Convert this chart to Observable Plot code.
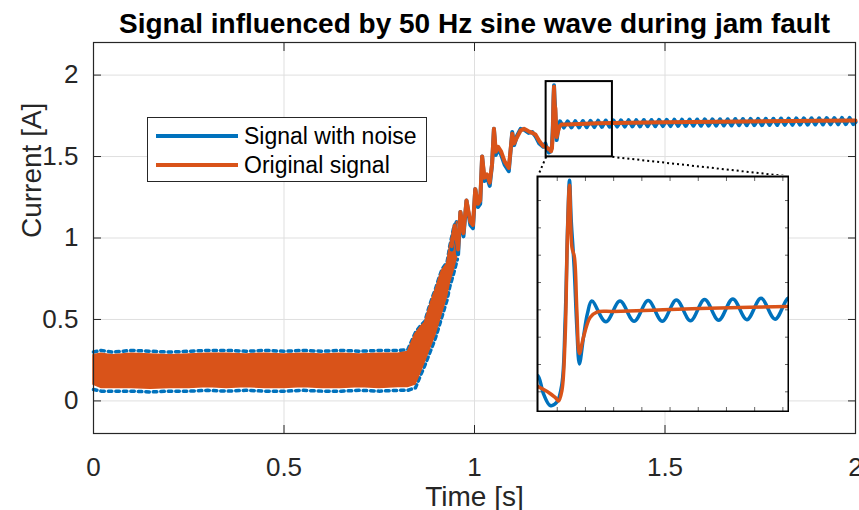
<!DOCTYPE html>
<html><head><meta charset="utf-8">
<script src="https://cdn.jsdelivr.net/npm/d3@7"></script>
<script src="https://cdn.jsdelivr.net/npm/@observablehq/plot@0.6"></script>
<style>
body{margin:0;background:#fff;}
#wrap{position:relative;width:859px;height:510px;overflow:hidden;font-family:"Liberation Sans",Arial,Helvetica,sans-serif;}
#wrap svg{display:block;}
#inset{position:absolute;}
#legend{position:absolute;left:147px;top:117px;width:280px;height:65px;border:1px solid #262626;background:#fff;box-sizing:border-box;}
.lrow{position:absolute;left:0;height:28px;width:100%;}
.lline{position:absolute;left:8px;width:82px;height:3.5px;top:12px;}
.ltext{position:absolute;left:96px;top:0;font-size:23px;line-height:28px;color:#000;white-space:nowrap;}
</style></head>
<body><div id="wrap"></div>
<script>
// ---------- data ----------
const titleText = "Signal influenced by 50 Hz sine wave during jam fault";
const xLabel = "Time [s]";
const yLabel = "Current [A]";
const seriesNames = ["Signal with noise", "Original signal"];
const xTicks = [0, 0.5, 1, 1.5, 2];
const yTicks = [0, 0.5, 1, 1.5, 2];
const insetXTicks = [1.2, 1.22, 1.24, 1.26, 1.28, 1.3, 1.32, 1.34, 1.36];
const insetYTicks = [1.55, 1.6, 1.65, 1.7, 1.75, 1.8, 1.85, 1.9];

// dense ripple band (original signal envelope) and noisy-signal envelope
const bandT  = [0, 0.02, 0.05, 0.1, 0.15, 0.2, 0.25, 0.3, 0.35, 0.4, 0.45, 0.5, 0.55, 0.6, 0.65, 0.7, 0.75, 0.8, 0.825, 0.845, 0.858, 0.870, 0.880, 0.890, 0.898, 0.906, 0.915, 0.928, 0.935, 0.945, 0.955];
const bandLo = [0.10, 0.08, 0.08, 0.08, 0.075, 0.08, 0.08, 0.085, 0.08, 0.085, 0.08, 0.08, 0.085, 0.08, 0.08, 0.085, 0.08, 0.085, 0.085, 0.10, 0.17, 0.24, 0.30, 0.36, 0.41, 0.47, 0.54, 0.64, 0.72, 0.80, 0.89];
const bandHi = [0.28, 0.29, 0.28, 0.29, 0.285, 0.28, 0.285, 0.29, 0.29, 0.285, 0.29, 0.285, 0.29, 0.285, 0.29, 0.285, 0.29, 0.29, 0.30, 0.41, 0.45, 0.48, 0.56, 0.63, 0.68, 0.74, 0.80, 0.84, 0.94, 1.05, 1.10];
const noisyHi = [0.30, 0.31, 0.30, 0.31, 0.305, 0.30, 0.305, 0.31, 0.31, 0.305, 0.31, 0.305, 0.31, 0.305, 0.31, 0.305, 0.31, 0.31, 0.315, 0.42, 0.46, 0.49, 0.57, 0.64, 0.69, 0.75, 0.81, 0.85, 0.95, 1.06, 1.11];
const noisyLo = [0.07, 0.06, 0.06, 0.06, 0.055, 0.06, 0.06, 0.065, 0.06, 0.065, 0.06, 0.06, 0.065, 0.06, 0.06, 0.065, 0.06, 0.065, 0.065, 0.08, 0.155, 0.22, 0.28, 0.34, 0.39, 0.45, 0.52, 0.62, 0.70, 0.78, 0.87];

// original signal after the ripple band
const origT = [0.940, 0.948, 0.957, 0.963, 0.971, 0.979, 0.989, 0.996, 1.002, 1.009, 1.015, 1.020, 1.026, 1.033, 1.040, 1.046, 1.051, 1.056, 1.062, 1.070, 1.079, 1.090, 1.099, 1.104, 1.112, 1.121, 1.130, 1.142, 1.152, 1.160, 1.170, 1.180,
  1.186, 1.1985, 1.2009, 1.2033, 1.2056, 1.2072, 1.2087, 1.2104, 1.2122, 1.2139, 1.2157, 1.2186, 1.2233, 1.2281, 1.2398, 1.275, 1.3225, 1.3626, 1.5, 1.7, 1.9, 2.0];
const origV = [0.95, 1.075, 0.93, 1.16, 1.03, 1.23, 1.10, 1.08, 1.30, 1.21, 1.23, 1.50, 1.37, 1.39, 1.34, 1.45, 1.67, 1.53, 1.56, 1.53, 1.47, 1.43, 1.64, 1.58, 1.62, 1.66, 1.67, 1.655, 1.645, 1.635, 1.595, 1.565,
  1.560, 1.540, 1.533, 1.552, 1.650, 1.833, 1.928, 1.815, 1.796, 1.699, 1.620, 1.650, 1.686, 1.696, 1.697, 1.700, 1.704, 1.706, 1.710, 1.715, 1.719, 1.721];

// noisy signal after the ripple band
const noisyT = [0.940, 0.948, 0.957, 0.963, 0.971, 0.979, 0.989, 0.996, 1.002, 1.009, 1.015, 1.020, 1.026, 1.033, 1.040, 1.046, 1.051, 1.056, 1.062, 1.070, 1.079, 1.090, 1.099, 1.104, 1.112, 1.121, 1.130, 1.142, 1.152, 1.160, 1.170, 1.180,
  1.186, 1.1903, 1.195, 1.1997, 1.2033, 1.2056, 1.2075, 1.2087, 1.2099, 1.212, 1.2139, 1.2157, 1.2186, 1.2214];
const noisyV = [0.93, 1.08, 0.90, 1.16, 1.01, 1.23, 1.08, 1.06, 1.30, 1.19, 1.21, 1.50, 1.35, 1.37, 1.32, 1.45, 1.67, 1.51, 1.55, 1.51, 1.45, 1.41, 1.65, 1.57, 1.63, 1.67, 1.665, 1.645, 1.65, 1.625, 1.58, 1.56,
  1.580, 1.546, 1.525, 1.531, 1.564, 1.680, 1.864, 1.937, 1.864, 1.778, 1.668, 1.601, 1.650, 1.693];
// 50 Hz ripple on the steady current: peaks and troughs
const rippleT = [1.2245,1.2345,1.2445,1.2545,1.2645,1.2745,1.2845,1.2945,1.3045,1.3145,
  1.3245,1.3345,1.3445,1.3545,1.3645,1.3745,1.3845,1.3945,1.4045,1.4145,
  1.4245,1.4345,1.4445,1.4545,1.4645,1.4745,1.4845,1.4945,1.5045,1.5145,
  1.5245,1.5345,1.5445,1.5545,1.5645,1.5745,1.5845,1.5945,1.6045,1.6145,
  1.6245,1.6345,1.6445,1.6545,1.6645,1.6745,1.6845,1.6945,1.7045,1.7145,
  1.7245,1.7345,1.7445,1.7545,1.7645,1.7745,1.7845,1.7945,1.8045,1.8145,
  1.8245,1.8345,1.8445,1.8545,1.8645,1.8745,1.8845,1.8945,1.9045,1.9145,
  1.9245,1.9345,1.9445,1.9545,1.9645,1.9745,1.9845,1.9945,2.0];
const rippleV = [1.716,1.678,1.716,1.679,1.717,1.679,1.718,1.680,1.719,1.681,
  1.720,1.682,1.721,1.683,1.722,1.684,1.722,1.684,1.723,1.685,
  1.723,1.685,1.724,1.686,1.724,1.686,1.725,1.687,1.725,1.687,
  1.726,1.688,1.726,1.688,1.727,1.689,1.727,1.689,1.728,1.690,
  1.728,1.690,1.729,1.691,1.729,1.691,1.730,1.692,1.730,1.692,
  1.731,1.693,1.731,1.693,1.732,1.694,1.732,1.694,1.733,1.695,
  1.733,1.695,1.734,1.696,1.734,1.696,1.735,1.697,1.735,1.697,
  1.736,1.698,1.736,1.698,1.737,1.699,1.737,1.699,1.712];

// zoom rectangle (data coords) and inset placement (main-axes data coords)
const zoomX = [1.188, 1.362];
const zoomY = [1.498, 1.960];
const insetX = [1.166, 1.826];
const insetY = [-0.066, 1.378];
const insetDomX = [1.186, 1.364];
const insetDomY = [1.514, 1.944];

// ---------- build rows ----------
const BLUE = "#0072BD", ORANGE = "#D95319", AX = "#262626", GRID = "#dfdfdf";
const FONT = '"Liberation Sans", Arial, Helvetica, sans-serif';
const bandRows = bandT.map((t, i) => ({t, lo: bandLo[i], hi: bandHi[i], nlo: noisyLo[i], nhi: noisyHi[i]}));
const origRows = origT.map((t, i) => ({t, v: origV[i]}));
const noisyRows = noisyT.map((t, i) => ({t, v: noisyV[i]})).concat(rippleT.map((t, i) => ({t, v: rippleV[i]})));
const zoomRect = [{x1: zoomX[0], x2: zoomX[1], y1: zoomY[0], y2: zoomY[1]}];
const connectors = [
  {x1: zoomX[0], y1: zoomY[0], x2: insetX[0], y2: insetY[1]},
  {x1: zoomX[1], y1: zoomY[0], x2: insetX[1], y2: insetY[1]}
];

const main = Plot.plot({
  width: 859, height: 510,
  marginLeft: 93, marginRight: 4, marginTop: 42, marginBottom: 77,
  style: {fontFamily: FONT, fontSize: "26px", color: AX, background: "white", overflow: "visible"},
  x: {domain: [0, 2], axis: null},
  y: {domain: [-0.2, 2.2], axis: null},
  marks: [
    Plot.gridX(xTicks, {stroke: GRID, strokeOpacity: 1, strokeWidth: 1}),
    Plot.gridY(yTicks, {stroke: GRID, strokeOpacity: 1, strokeWidth: 1}),
    Plot.line(bandRows, {x: "t", y: "nhi", stroke: BLUE, strokeWidth: 3.5, strokeDasharray: "3.5,4"}),
    Plot.line(bandRows, {x: "t", y: "nlo", stroke: BLUE, strokeWidth: 3.5, strokeDasharray: "3.5,4"}),
    Plot.areaY(bandRows, {x: "t", y1: "lo", y2: "hi", fill: ORANGE, stroke: ORANGE, strokeWidth: 1.5}),
    Plot.line(noisyRows, {x: "t", y: "v", stroke: BLUE, strokeWidth: 4, strokeLinejoin: "round"}),
    Plot.line(origRows, {x: "t", y: "v", stroke: ORANGE, strokeWidth: 4, strokeLinejoin: "round"}),
    Plot.rect(zoomRect, {x1: "x1", x2: "x2", y1: "y1", y2: "y2", fill: "none", stroke: "black", strokeWidth: 2}),
    Plot.link(connectors, {x1: "x1", y1: "y1", x2: "x2", y2: "y2", stroke: "black", strokeWidth: 2, strokeDasharray: "2,3"}),
    Plot.frame({stroke: AX, strokeWidth: 1.2}),
    Plot.axisX(xTicks, {anchor: "bottom", tickSize: -8, tickPadding: 32, tickFormat: d => String(d), color: AX, fontSize: 26, label: null}),
    Plot.axisX(xTicks, {anchor: "top", tickSize: -8, tickFormat: () => "", color: AX, label: null}),
    Plot.axisY(yTicks, {anchor: "left", tickSize: -8, tickPadding: 23, tickFormat: d => String(d), color: AX, fontSize: 26, label: null}),
    Plot.axisY(yTicks, {anchor: "right", tickSize: -8, tickFormat: () => "", color: AX, label: null}),
    Plot.text([titleText], {frameAnchor: "top", dy: -18, fontSize: 28, fontWeight: "bold", fill: "#000", lineAnchor: "middle"}),
    Plot.text([xLabel], {frameAnchor: "bottom", dy: 64, fontSize: 28, fill: AX, lineAnchor: "middle"}),
    Plot.text([yLabel], {frameAnchor: "left", dx: -61, rotate: -90, fontSize: 28, fill: AX, lineAnchor: "middle"})
  ]
});
const wrap = document.getElementById("wrap");
wrap.appendChild(main);

// ---------- inset ----------
const sx = main.scale("x"), sy = main.scale("y");
const px1 = sx.apply(insetX[0]), px2 = sx.apply(insetX[1]);
const py1 = sy.apply(insetY[1]), py2 = sy.apply(insetY[0]);
const iw = Math.round(px2 - px1), ih = Math.round(py2 - py1);
const inset = Plot.plot({
  width: iw + 2, height: ih + 2, margin: 1,
  style: {background: "white", overflow: "hidden"},
  x: {domain: insetDomX, axis: null},
  y: {domain: insetDomY, axis: null},
  marks: [
    Plot.line(noisyRows, {x: "t", y: "v", stroke: BLUE, strokeWidth: 3.5, curve: "catmull-rom", clip: true}),
    Plot.line(origRows, {x: "t", y: "v", stroke: ORANGE, strokeWidth: 3.5, curve: "catmull-rom", clip: true}),
    Plot.axisX(insetXTicks, {anchor: "bottom", tickSize: -4, tickFormat: () => "", stroke: "#666", label: null}),
    Plot.axisX(insetXTicks, {anchor: "top", tickSize: -4, tickFormat: () => "", stroke: "#666", label: null}),
    Plot.axisY(insetYTicks, {anchor: "left", tickSize: -4, tickFormat: () => "", stroke: "#666", label: null}),
    Plot.axisY(insetYTicks, {anchor: "right", tickSize: -4, tickFormat: () => "", stroke: "#666", label: null}),
    Plot.frame({stroke: "black", strokeWidth: 2})
  ]
});
inset.id = "inset";
inset.style.left = (px1 - 1) + "px";
inset.style.top = (py1 - 1) + "px";
wrap.appendChild(inset);

// ---------- legend ----------
const legend = document.createElement("div");
legend.id = "legend";
[BLUE, ORANGE].forEach((c, i) => {
  const row = document.createElement("div");
  row.className = "lrow";
  row.style.top = (4 + i * 29) + "px";
  row.innerHTML = `<div class="lline" style="background:${c}"></div><div class="ltext">${seriesNames[i]}</div>`;
  legend.appendChild(row);
});
wrap.appendChild(legend);
</script>
</body></html>
